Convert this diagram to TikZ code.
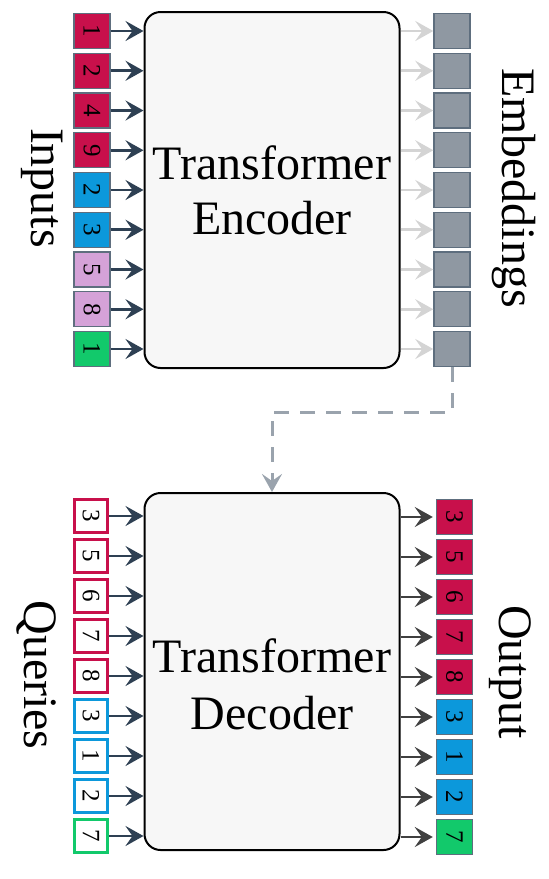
\documentclass[tikz,border=0pt]{standalone}
\usepackage{fontspec}
\setmainfont{Liberation Serif}
\usetikzlibrary{arrows.meta,positioning}

\definecolor{tokred}{HTML}{C8104B}
\definecolor{tokblue}{HTML}{0C98DB}
\definecolor{toklav}{HTML}{D5A2D8}
\definecolor{tokgreen}{HTML}{12C96B}
\definecolor{embgray}{HTML}{8F98A2}
\definecolor{tokedge}{HTML}{5E6E7E}
\definecolor{slate}{HTML}{2E4053}
\definecolor{dashgray}{HTML}{9AA3AD}

\tikzset{
  block/.style={draw=black, line width=1pt, fill=black!3, rounded corners=8pt,
    minimum width=127.5pt, align=center, font=\fontsize{24}{27.5}\selectfont},
  tok/.style={draw=tokedge, line width=0.7pt, minimum width=18pt, minimum height=17.5pt,
    inner sep=0pt, font=\fontsize{12.5}{12.5}\selectfont},
  qtok/.style={draw=#1, line width=1.5pt, fill=white, minimum width=16.5pt, minimum height=16.5pt,
    inner sep=0pt, font=\fontsize{12.5}{12.5}\selectfont},
  sidelabel/.style={rotate=-90, font=\fontsize{24}{24}\selectfont},
  feed/.style={-{Stealth[length=9pt, width=10pt, inset=3.5pt]}, line width=1.4pt},
}

\begin{document}
\begin{tikzpicture}[x=0.5pt, y=-0.5pt]
  \useasboundingbox (0,0) rectangle (549,879);

  % Encoder and decoder blocks
  \node (enc) [block, minimum height=178pt] at (272,190) {Transformer\\Encoder};
  \node (dec) [block, minimum height=178.5pt] at (272,671.5) {};
  \node (dectext) [align=center, font=\fontsize{24}{28.5}\selectfont] at (272,684) {Transformer\\Decoder};

  % Input tokens
  \foreach \v/\c [count=\i] in {1/tokred, 2/tokred, 4/tokred, 9/tokred, 2/tokblue,
      3/tokblue, 5/toklav, 8/toklav, 1/tokgreen} {
    \node (in\i) [tok, fill=\c] at (92, {31+39.75*(\i-1)}) {\rotatebox{-90}{\v}};
    \draw [feed, slate] (in\i.east) -- (in\i.east -| enc.west);
  }

  % Embeddings
  \foreach \i in {1,...,9} {
    \node (emb\i) [tok, fill=embgray] at (452, {31+39.75*(\i-1)}) {};
    \draw [feed, black!17] (emb\i.west -| enc.east) -- (emb\i.west);
  }

  % Query tokens
  \foreach \v/\c [count=\i] in {3/tokred, 5/tokred, 6/tokred, 7/tokred, 8/tokred,
      3/tokblue, 1/tokblue, 2/tokblue, 7/tokgreen} {
    \node (q\i) [qtok=\c] at (91, {516+40*(\i-1)}) {\rotatebox{-90}{\v}};
    \draw [feed, slate] (q\i.east) -- (q\i.east -| dec.west);
  }

  % Output tokens
  \foreach \v/\c [count=\i] in {3/tokred, 5/tokred, 6/tokred, 7/tokred, 8/tokred,
      3/tokblue, 1/tokblue, 2/tokblue, 7/tokgreen} {
    \node (out\i) [tok, fill=\c] at (454.5, {517+40*(\i-1)}) {\rotatebox{-90}{\v}};
    \draw [feed, black!75, shorten >=1.5pt] (out\i.west -| dec.east) -- (out\i.west);
  }

  % Embeddings feed the decoder
  \coordinate (bend) at (452,412);
  \draw [feed, dashgray, line width=1.5pt, dash pattern=on 7.5pt off 5.5pt]
    (emb9.south) -- (bend) -| (dec.north);

  % Side labels
  \node (inlabel) [sidelabel] at (42,188) {Inputs};
  \node (emblabel) [sidelabel] at (514,188) {Embeddings};
  \node (qlabel) [sidelabel] at (37,675) {Queries};
  \node (outlabel) [sidelabel] at (510,672) {Output};
\end{tikzpicture}
\end{document}
